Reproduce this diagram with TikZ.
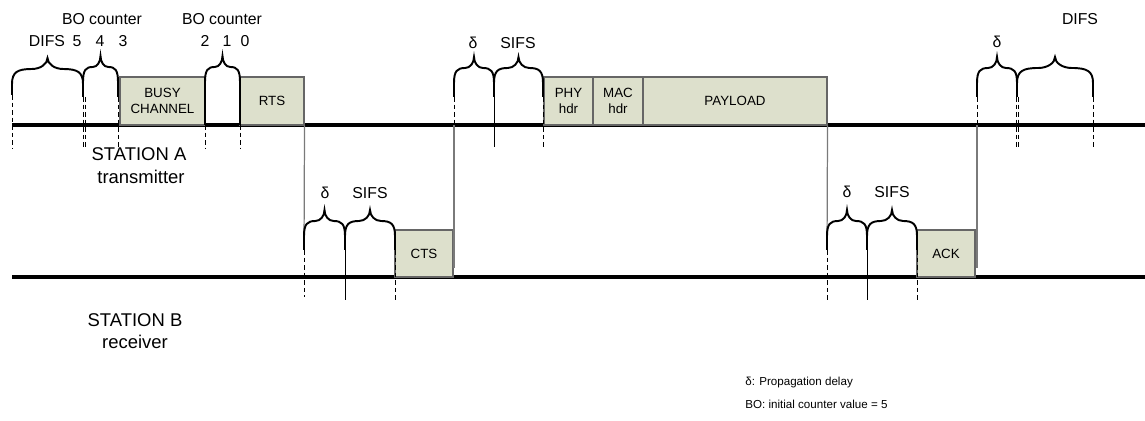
\documentclass[tikz,border=0pt]{standalone}
\usepackage{fontspec}
\setmainfont{Liberation Sans}
\definecolor{boxfill}{HTML}{DDE0CC}
\definecolor{boxedge}{HTML}{666666}
\definecolor{guidegray}{HTML}{7A7A7A}
\tikzset{
  timeline/.style={line width=2.3pt},
  frame/.style={draw=boxedge, fill=boxfill, line width=0.6pt, inner sep=0pt, align=center, font=\fontsize{7.6}{8.8}\selectfont},
  bracel/.style={line width=1.1pt},
  guide/.style={draw=guidegray, line width=0.7pt},
  dtick/.style={line width=0.5pt, dash pattern=on 2.6pt off 1.7pt},
  stick/.style={line width=0.5pt},
  lbl/.style={font=\fontsize{9}{10}\selectfont, inner sep=0pt, anchor=base},
  stlbl/.style={font=\fontsize{10.5}{12}\selectfont, inner sep=0pt, anchor=base},
  leg/.style={font=\fontsize{6.6}{8}\selectfont, inner sep=0pt, anchor=base west},
}
\newcommand{\pxbox}[6]{\node[frame, minimum width={(#4-#2)*0.02cm}, minimum height={(#5-#3)*0.02cm}] (#1) at ({(#2+#4)/2},{(#3+#5)/2}) {#6};}
\newcommand{\brce}[4]{%
  \pgfmathsetmacro{\bw}{#2-#1}%
  \pgfmathsetmacro{\bm}{(#1+#2)/2}%
  \pgfmathsetmacro{\bs}{#4+11}%
  \pgfmathsetmacro{\bl}{#4+26}%
  \draw[bracel] ({#1},{#3}) -- ({#1},{\bl})
    .. controls ({#1},{\bs+3}) and ({#1+0.08*\bw},{\bs}) .. ({#1+0.28*\bw},{\bs})
    .. controls ({\bm-0.1*\bw},{\bs}) and ({\bm},{#4+6}) .. ({\bm},{#4})
    .. controls ({\bm},{#4+6}) and ({\bm+0.1*\bw},{\bs}) .. ({#2-0.28*\bw},{\bs})
    .. controls ({#2-0.08*\bw},{\bs}) and ({#2},{\bs+3}) .. ({#2},{\bl}) -- ({#2},{#3});
}
\begin{document}
\begin{tikzpicture}[x=0.02cm,y=-0.02cm]
\useasboundingbox (0,0) rectangle (1145,421);
% timelines
\coordinate (A0) at (12,125); \coordinate (A1) at (1145,125);
\coordinate (B0) at (12,277); \coordinate (B1) at (1145,277);
\draw[timeline] (A0) -- (A1);
\draw[timeline] (B0) -- (B1);
% boxes station A
\pxbox{busy}{120}{77}{205}{125}{BUSY\\CHANNEL}
\pxbox{rts}{240}{77}{304}{125}{RTS}
\pxbox{phy}{544}{77}{593}{125}{PHY\\hdr}
\pxbox{mac}{593}{77}{643}{125}{MAC\\hdr}
\pxbox{payload}{643}{77}{827}{125}{PAYLOAD}
% boxes station B
\pxbox{cts}{395}{230}{453}{277}{CTS}
\pxbox{ack}{917}{230}{975}{277}{ACK}
% guide lines between stations
\coordinate (rtsdown) at (304,250);
\coordinate (paydown) at (827,250);
\coordinate (ctsup) at (454,125);
\coordinate (ctsbot) at (454,268);
\coordinate (ackup) at (977,125);
\coordinate (ackbot) at (977,268);
\draw[guide] (rts.south east) -- (rtsdown);
\draw[guide] (payload.south east) -- (paydown);
\draw[guide] (ctsbot) -- (ctsup);
\draw[guide] (ackbot) -- (ackup);
% braces station A, left part
\brce{12}{83}{95}{58}
\brce{83}{118}{97}{56}
\brce{205}{240}{125}{56}
\draw[dtick] (12,95) -- (12,148);
\draw[dtick] (83,97) -- (83,148);
\draw[dtick] (85,97) -- (85,148);
\draw[dtick] (118,97) -- (118,148);
\draw[dtick] (205,125) -- (205,148);
\draw[dtick] (240,125) -- (240,148);
% braces station A, after CTS
\brce{454}{494}{97}{57}
\brce{494}{543}{97}{57}
\draw[dtick] (454,97) -- (454,125);
\draw[stick] (494,97) -- (494,147);
\draw[dtick] (543,97) -- (543,148);
% braces station A, after ACK
\brce{977}{1017}{97}{57}
\brce{1017}{1093}{97}{57}
\draw[dtick] (977,97) -- (977,125);
\draw[dtick] (1016,97) -- (1016,148);
\draw[dtick] (1018,97) -- (1018,148);
\draw[dtick] (1093,97) -- (1093,148);
% braces station B
\brce{304}{345}{250}{210}
\brce{345}{395}{250}{210}
\draw[dtick] (304,250) -- (304,297);
\draw[stick] (345,250) -- (345,300);
\draw[dtick] (395,250) -- (395,300);
\brce{827}{867}{250}{210}
\brce{867}{917}{250}{210}
\draw[dtick] (827,250) -- (827,300);
\draw[stick] (867,250) -- (867,300);
\draw[dtick] (917,250) -- (917,300);
% labels
\node[lbl] (bo1) at (102,25) {BO counter};
\node[lbl] (bo2) at (222,25) {BO counter};
\node[lbl] (difsL) at (47,47) {DIFS};
\node[lbl] (n5) at (77,47) {5};
\node[lbl] (n4) at (100,47) {4};
\node[lbl] (n3) at (123,47) {3};
\node[lbl] (n2) at (205,47) {2};
\node[lbl] (n1) at (227,47) {1};
\node[lbl] (n0) at (245,47) {0};
\node[lbl] (dA) at (473,49) {δ};
\node[lbl] (sA) at (518,49) {SIFS};
\node[lbl] (dA2) at (997,48) {δ};
\node[lbl] (difsR) at (1080,25) {DIFS};
\node[lbl] (dB) at (325,199) {δ};
\node[lbl] (sB) at (370,199) {SIFS};
\node[lbl] (dB2) at (847,198) {δ};
\node[lbl] (sB2) at (892,198) {SIFS};
\node[stlbl] (stA) at (139,161) {STATION A};
\node[stlbl] (stAr) at (141,184) {transmitter};
\node[stlbl] (stB) at (135,327) {STATION B};
\node[stlbl] (stBr) at (135,349) {receiver};
\node[leg] (leg1) at (745,386) {δ: Propagation delay};
\node[leg] (leg2) at (745,409) {BO: initial counter value = 5};
\end{tikzpicture}
\end{document}
